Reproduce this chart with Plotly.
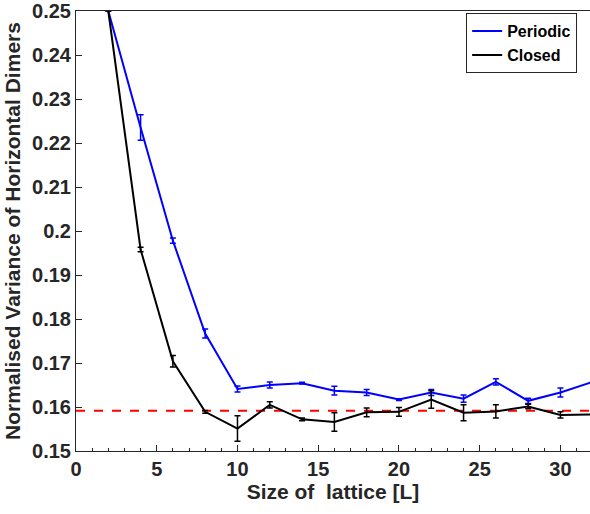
import plotly.graph_objects as go

L = [2, 4, 6, 8, 10, 12, 14, 16, 18, 20, 22, 24, 26, 28, 30, 32]
periodic = [0.2500, 0.2235, 0.1978, 0.1767, 0.1641, 0.1650, 0.1654, 0.1637, 0.1633,
            0.1617, 0.1633, 0.1619, 0.1657, 0.1614, 0.1633, 0.1657]
periodic_err = [0.0, 0.0029, 0.0006, 0.0010, 0.0007, 0.0007, 0.0002, 0.0010, 0.0007,
                0.0002, 0.0007, 0.0008, 0.0007, 0.0006, 0.0010, 0.0]
closed = [0.2500, 0.1958, 0.1704, 0.1589, 0.1551, 0.1605, 0.1572, 0.1566, 0.1588,
          0.1589, 0.1617, 0.1587, 0.1590, 0.1601, 0.1582, 0.1583]
closed_err = [0.0, 0.0005, 0.0013, 0.0003, 0.0029, 0.0007, 0.0003, 0.0021, 0.0010,
              0.0010, 0.0020, 0.0018, 0.0015, 0.0005, 0.0007, 0.0]
ref_x = [0, 32]
ref_y = [0.15915, 0.15915]
y_ticks = [0.15, 0.16, 0.17, 0.18, 0.19, 0.2, 0.21, 0.22, 0.23, 0.24, 0.25]
y_labels = ["0.15", "0.16", "0.17", "0.18", "0.19", "0.2", "0.21", "0.22", "0.23", "0.24", "0.25"]
x_ticks = [0, 5, 10, 15, 20, 25, 30]

FONT = "Liberation Sans, Arial, sans-serif"
TXT = "#262626"

fig = go.Figure()
fig.add_trace(go.Scatter(x=ref_x, y=ref_y, mode="lines", showlegend=False,
                         line=dict(color="#FF0000", width=2, dash="dash")))
fig.add_trace(go.Scatter(x=L, y=periodic, mode="lines", name="Periodic",
                         line=dict(color="#0000FF", width=2),
                         error_y=dict(type="data", array=periodic_err, color="#0000FF",
                                      thickness=1.5, width=3)))
fig.add_trace(go.Scatter(x=L, y=closed, mode="lines", name="Closed",
                         line=dict(color="#000000", width=2),
                         error_y=dict(type="data", array=closed_err, color="#000000",
                                      thickness=1.5, width=3)))

fig.update_layout(
    width=590, height=514,
    margin=dict(l=76, r=0, t=5, b=63),
    plot_bgcolor="white", paper_bgcolor="white",
    font=dict(family=FONT, color=TXT),
    legend=dict(x=0.975, y=0.995, xanchor="right", yanchor="top",
                bgcolor="white", bordercolor="#262626", borderwidth=1,
                font=dict(family=FONT, size=16, color="#000000", weight="bold"),
                tracegroupgap=0, itemwidth=30),
    xaxis=dict(range=[0, 31.83], tickvals=x_ticks,
               showline=True, linecolor="#262626", linewidth=1, mirror=True,
               ticks="inside", ticklen=6, tickcolor="#262626",
               minor=dict(dtick=1, ticks="inside", ticklen=3, tickcolor="#262626"),
               showgrid=False, zeroline=False,
               tickfont=dict(family=FONT, size=20, color=TXT, weight="bold"),
               title=dict(text="Size of  lattice [L]", standoff=4,
                          font=dict(family=FONT, size=21, color=TXT, weight="bold"))),
    yaxis=dict(range=[0.15, 0.25], tickvals=y_ticks, ticktext=y_labels,
               ticklabeloverflow="allow",
               showline=True, linecolor="#262626", linewidth=1, mirror=False,
               ticks="inside", ticklen=6, tickcolor="#262626",
               showgrid=False, zeroline=False,
               tickfont=dict(family=FONT, size=20, color=TXT, weight="bold"),
               title=dict(text="Normalised Variance of Horizontal Dimers", standoff=5,
                          font=dict(family=FONT, size=21, color=TXT, weight="bold"))),
)

fig.write_html("out.html")
